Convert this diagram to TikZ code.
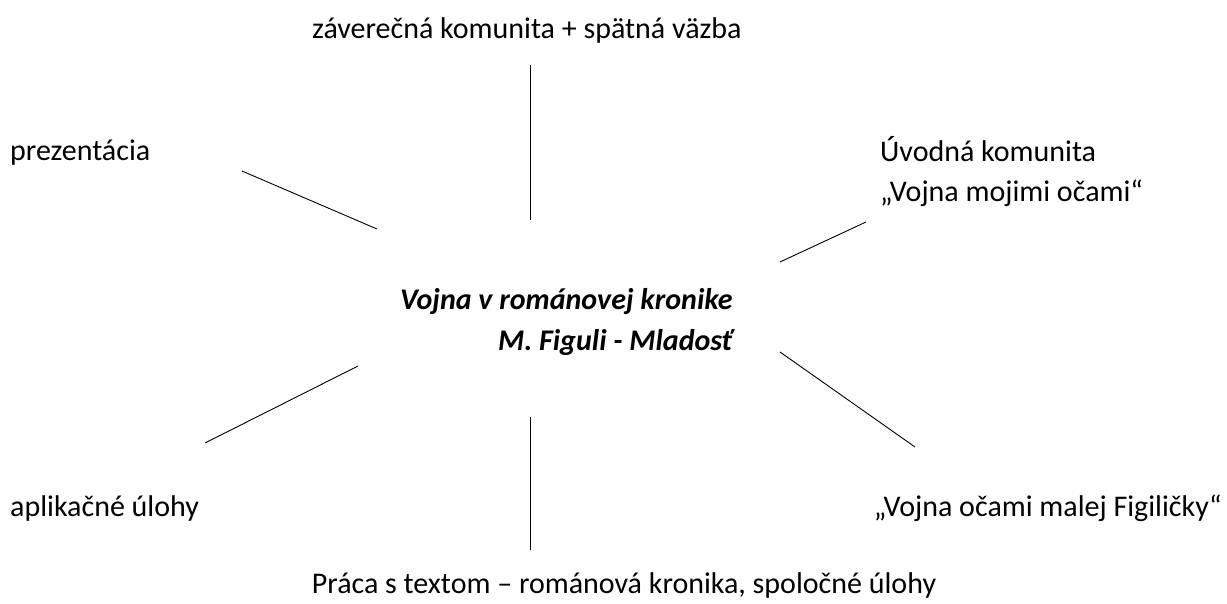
\documentclass[tikz,border=0pt]{standalone}
\usepackage{fontspec}
\setmainfont{Carlito}
\begin{document}
\begin{tikzpicture}[x=1pt,y=-1pt,
    item/.style={anchor=west, inner sep=0pt, font=\fontsize{30}{40}\selectfont},
    spoke/.style={line width=0.9pt}]
    \useasboundingbox (0,0) rectangle (1227,603);

    % Center
    \node[item, anchor=east, align=right, font=\fontsize{30}{41}\selectfont\bfseries\itshape] (center) at (733,322)
        {Vojna v románovej kronike\\M. Figuli - Mladosť};

    % Labels
    \node[item] (top) at (312,30) {záverečná komunita + spätná väzba};
    \node[item] (pres) at (10,153) {prezentácia};
    \node[item, align=left] (intro) at (880,172) {Úvodná komunita\\„Vojna mojimi očami“};
    \node[item] (apl) at (10,508) {aplikačné úlohy};
    \node[item, anchor=east] (figi) at (1222,508) {„Vojna očami malej Figiličky“};
    \node[item, anchor=center] (text) at (624,585) {Práca s textom – románová kronika, spoločné úlohy};

    % Spokes
    \coordinate (t1) at (530,65);  \coordinate (t2) at (530,220);
    \coordinate (a1) at (242,171); \coordinate (a2) at (377,229);
    \coordinate (b1) at (780,262); \coordinate (b2) at (866,222);
    \coordinate (c1) at (205,443); \coordinate (c2) at (358,366);
    \coordinate (d1) at (780,352); \coordinate (d2) at (915,447);
    \coordinate (e1) at (530,417); \coordinate (e2) at (530,550);
    \foreach \p in {t,a,b,c,d,e} {
        \draw[spoke] (\p1) -- (\p2);
    }
\end{tikzpicture}
\end{document}
